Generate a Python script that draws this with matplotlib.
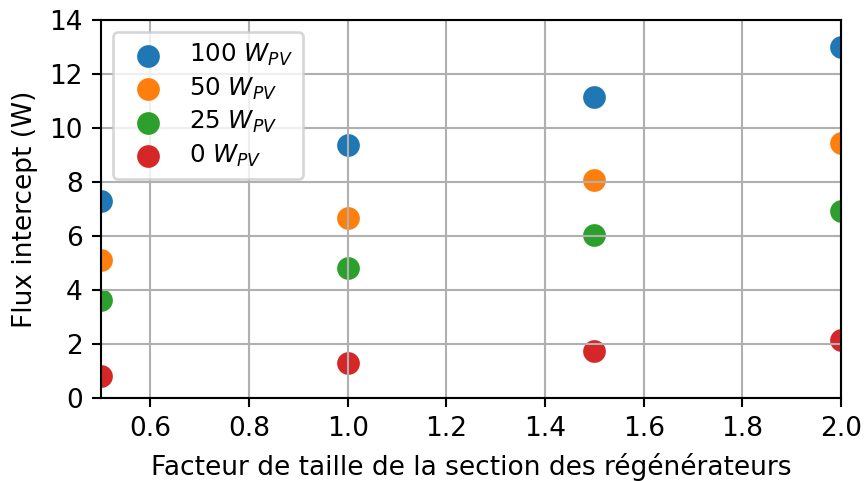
import matplotlib
matplotlib.use("Agg")
import matplotlib.pyplot as plt

x = [0.5, 1.0, 1.5, 2.0]
labels = ["100 $W_{PV}$", "50 $W_{PV}$", "25 $W_{PV}$", "0 $W_{PV}$"]
flux_100 = [7.30, 9.37, 11.15, 13.0]
flux_50 = [5.11, 6.67, 8.07, 9.44]
flux_25 = [3.63, 4.81, 6.04, 6.93]
flux_0 = [0.81, 1.30, 1.74, 2.15]
series = [flux_100, flux_50, flux_25, flux_0]
colors = ["#1f77b4", "#ff7f0e", "#2ca02c", "#d62728"]

DPI = 190
fig, ax = plt.subplots(figsize=(865 / DPI, 481 / DPI), dpi=DPI)
fig.subplots_adjust(left=101 / 865, right=841 / 865, top=1 - 20 / 481, bottom=1 - 398 / 481)
for ys, lab, c in zip(series, labels, colors):
    ax.scatter(x, ys, s=58, color=c, label=lab)
ax.set_xlim(0.5, 2.0)
ax.set_ylim(0, 14)
ax.set_yticks(range(0, 15, 2))
ax.grid(True)
ax.set_xlabel("Facteur de taille de la section des régénérateurs")
ax.set_ylabel("Flux intercept (W)")
ax.legend(loc="upper left", fontsize=9.3, labelspacing=0.3, handletextpad=0.7)
fig.savefig("out.png", dpi=DPI)
